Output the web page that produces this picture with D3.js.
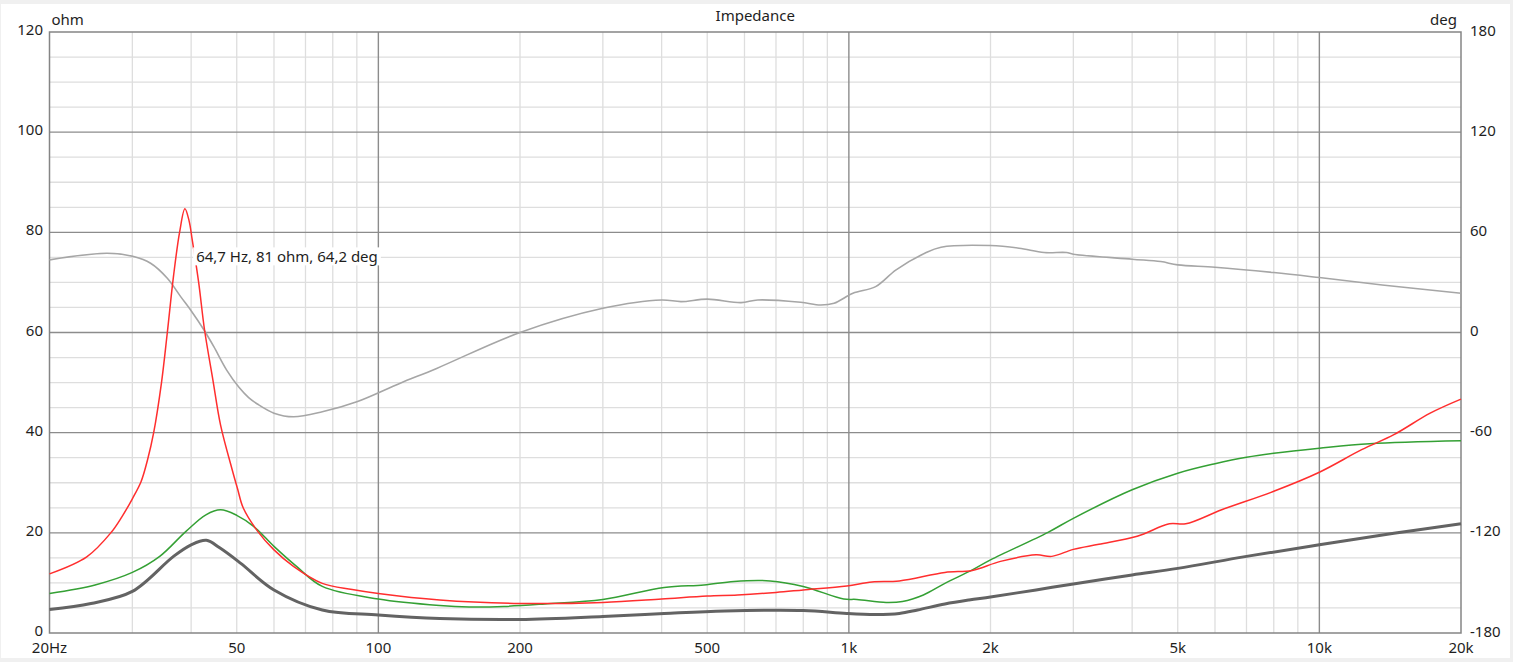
<!DOCTYPE html>
<html>
<head>
<meta charset="utf-8">
<script src="https://cdn.jsdelivr.net/npm/d3@7"></script>
<style>
  html, body { margin: 0; padding: 0; background: #f0f0f0; }
  svg { display: block; }
  text { font-family: "Noto Sans", "Open Sans", sans-serif; fill: #1e1e1e; }
</style>
</head>
<body>
<svg id="chart" width="1513" height="662"></svg>
<script>
// ---------- data ----------
const chartTitle = "Impedance";
const leftUnit = "ohm";
const rightUnit = "deg";
const annotationText = "64,7 Hz, 81 ohm, 64,2 deg";

const freqTicks = [20, 50, 100, 200, 500, 1000, 2000, 5000, 10000, 20000];
const freqTickLabels = ["20Hz", "50", "100", "200", "500", "1k", "2k", "5k", "10k", "20k"];
const ohmTicks = [0, 20, 40, 60, 80, 100, 120];
const degTicks = [-180, -120, -60, 0, 60, 120, 180];

// red: impedance magnitude (ohm)
const redFreq = [20, 24, 27, 28.5, 30, 31.3, 32.3, 33.3, 34.6, 35.6, 36.7, 37.8, 38.8, 39.6, 40.2, 41.5, 42.7, 44.5, 46.2, 48.9, 50.2, 51.6, 55.3, 60, 66, 76, 88, 100, 135, 200, 300, 400, 500, 580, 700, 800, 990, 1120, 1280, 1600, 1830, 2100, 2500, 2700, 3000, 3400, 4100, 4800, 5200, 6200, 8000, 10000, 12300, 14400, 17200, 20000];
const redOhm  = [11.8, 15.2, 20.0, 23.2, 26.8, 30.2, 34.5, 40.0, 50.0, 60.0, 71.3, 80.0, 84.7, 82.3, 78.6, 70.0, 60.6, 50.5, 41.5, 32.6, 28.8, 25.0, 20.4, 16.6, 13.3, 9.9, 8.7, 7.9, 6.6, 5.9, 6.1, 6.8, 7.4, 7.6, 8.1, 8.6, 9.4, 10.2, 10.4, 12.1, 12.5, 14.3, 15.6, 15.3, 16.7, 17.7, 19.3, 21.8, 21.8, 24.6, 28.3, 32.1, 36.6, 39.6, 43.9, 46.7];

// green: second impedance curve (ohm)
const greenFreq = [20, 25, 30, 34.3, 39, 43, 46.2, 50, 54.3, 60, 67, 76, 100, 135, 156, 185, 226, 300, 405, 492, 570, 680, 800, 975, 1040, 1200, 1300, 1440, 1600, 1830, 2000, 2650, 3000, 4000, 5000, 6000, 7000, 8000, 10000, 12800, 20000];
const greenOhm  = [7.9, 9.6, 12.1, 15.3, 20.3, 23.6, 24.6, 23.5, 21.3, 17.3, 13.3, 9.3, 6.8, 5.5, 5.2, 5.3, 5.8, 6.7, 9.1, 9.6, 10.3, 10.4, 9.3, 6.8, 6.7, 6.1, 6.3, 7.6, 9.9, 12.6, 14.6, 20.1, 22.9, 28.6, 31.9, 33.8, 35.1, 35.9, 36.9, 37.8, 38.4];

// dark grey: third impedance curve (ohm)
const darkFreq = [20, 24.5, 30, 36.7, 40, 43.1, 46, 51, 60, 76, 100, 135, 200, 300, 405, 545, 800, 990, 1140, 1280, 1400, 1600, 1800, 2000, 2500, 3000, 4000, 5000, 7000, 10000, 14400, 20000];
const darkOhm  = [4.7, 5.9, 8.3, 15.3, 17.6, 18.5, 17.0, 13.9, 8.6, 4.6, 3.6, 2.9, 2.7, 3.3, 3.9, 4.4, 4.5, 3.9, 3.7, 3.9, 4.6, 5.8, 6.6, 7.2, 8.6, 9.8, 11.6, 12.9, 15.3, 17.6, 19.9, 21.8];

// light grey: phase (deg)
const phaseFreq = [20, 26.5, 30.2, 32.8, 35.6, 38, 39.9, 42.6, 44.7, 47.6, 50.6, 53, 55.3, 60, 66, 76, 90, 111, 133, 200, 300, 400, 440, 500, 590, 640, 790, 870, 930, 1020, 1140, 1260, 1450, 1570, 2000, 2300, 2600, 2900, 3000, 4000, 4600, 5000, 6000, 8000, 10000, 13600, 20000];
const phaseDeg  = [43.5, 47.5, 45.5, 41.5, 32.5, 21.5, 13.5, 1.5, -8.5, -22.5, -33.0, -39.0, -42.8, -48.3, -50.5, -47.5, -41.5, -30.5, -21.5, 0, 14.5, 19.5, 18.5, 20, 17.9, 19.5, 18.1, 16.5, 17.5, 23.5, 27.5, 37.5, 47.5, 51.1, 52.1, 50.5, 47.9, 47.9, 46.9, 43.9, 42.5, 40.5, 39.1, 35.9, 32.9, 28.5, 23.5];

// ---------- layout ----------
const plot = { left: 49.5, right: 1461, top: 32, bottom: 633 };

const svg = d3.select("#chart");
svg.append("rect").attr("x", 1).attr("y", 4).attr("width", 1509).attr("height", 654).attr("fill", "#ffffff");

const x = d3.scaleLog().domain([20, 20000]).range([plot.left, plot.right]);
const y = d3.scaleLinear().domain([0, 120]).range([plot.bottom, plot.top]);
const yR = d3.scaleLinear().domain([-180, 180]).range([plot.bottom, plot.top]);

const grid = svg.append("g");

// minor vertical grid
const minorFreqs = [];
[10, 100, 1000, 10000].forEach(dec => {
  for (let m = 2; m <= 9; m++) {
    const f = dec * m;
    if (f > 20 && f < 20000) minorFreqs.push(f);
  }
});
grid.selectAll(".vminor").data(minorFreqs).enter().append("line")
  .attr("x1", d => x(d)).attr("x2", d => x(d))
  .attr("y1", plot.top).attr("y2", plot.bottom)
  .attr("stroke", "#dedede").attr("stroke-width", 1.3);

// minor horizontal grid
const minorOhm = d3.range(5, 120, 5).filter(v => v % 20 !== 0);
grid.selectAll(".hminor").data(minorOhm).enter().append("line")
  .attr("x1", plot.left).attr("x2", plot.right)
  .attr("y1", d => y(d)).attr("y2", d => y(d))
  .attr("stroke", "#dedede").attr("stroke-width", 1.3);

// major grid
grid.selectAll(".vmajor").data([100, 1000, 10000]).enter().append("line")
  .attr("x1", d => x(d)).attr("x2", d => x(d))
  .attr("y1", plot.top).attr("y2", plot.bottom)
  .attr("stroke", "#8c8c8c").attr("stroke-width", 1.4);
grid.selectAll(".hmajor").data(ohmTicks.filter(v => v > 0 && v < 120)).enter().append("line")
  .attr("x1", plot.left).attr("x2", plot.right)
  .attr("y1", d => y(d)).attr("y2", d => y(d))
  .attr("stroke", "#8c8c8c").attr("stroke-width", 1.4);

// border
svg.append("rect")
  .attr("x", plot.left).attr("y", plot.top)
  .attr("width", plot.right - plot.left).attr("height", plot.bottom - plot.top)
  .attr("fill", "none").attr("stroke", "#858585").attr("stroke-width", 1.5);

// ---------- curves ----------
const smooth = d3.curveCatmullRom.alpha(0.5);
const lineOhm = d3.line().x(d => x(d[0])).y(d => y(d[1])).curve(smooth);
const lineDeg = d3.line().x(d => x(d[0])).y(d => yR(d[1])).curve(smooth);
const zip = (a, b) => a.map((v, i) => [v, b[i]]);

const curves = svg.append("g");
curves.append("path").datum(zip(phaseFreq, phaseDeg)).attr("d", lineDeg)
  .attr("fill", "none").attr("stroke", "#a6a6a6").attr("stroke-width", 1.6);
curves.append("path").datum(zip(darkFreq, darkOhm)).attr("d", lineOhm)
  .attr("fill", "none").attr("stroke", "#636363").attr("stroke-width", 3);
curves.append("path").datum(zip(greenFreq, greenOhm)).attr("d", lineOhm)
  .attr("fill", "none").attr("stroke", "#34a034").attr("stroke-width", 1.5);
curves.append("path").datum(zip(redFreq, redOhm)).attr("d", lineOhm)
  .attr("fill", "none").attr("stroke", "#ff2e2e").attr("stroke-width", 1.5);

// ---------- annotation ----------
const ann = svg.append("g");
const annX = x(40.2) + 1, annY = y(75.2);
const annText = ann.append("text").attr("x", annX + 3).attr("y", annY)
  .attr("dominant-baseline", "central").attr("font-size", 15).text(annotationText);
const bb = annText.node().getBBox();
ann.insert("rect", "text").attr("x", bb.x - 3).attr("y", bb.y + 1).attr("width", bb.width + 6).attr("height", bb.height - 2)
  .attr("fill", "#ffffff");

// ---------- labels ----------
const labels = svg.append("g").attr("font-size", 15);
labels.append("text").attr("x", (plot.left + plot.right) / 2).attr("y", 21)
  .attr("text-anchor", "middle").text(chartTitle);
labels.append("text").attr("x", plot.left + 2).attr("y", 25).text(leftUnit);
labels.append("text").attr("x", plot.right - 4).attr("y", 25).attr("text-anchor", "end").text(rightUnit);

labels.selectAll(".yl").data(ohmTicks).enter().append("text")
  .attr("x", 43).attr("y", d => y(d) - 3)
  .attr("text-anchor", "end").attr("dominant-baseline", "central").text(d => d);
labels.selectAll(".yr").data(degTicks).enter().append("text")
  .attr("x", 1470).attr("y", d => yR(d) - 2.5)
  .attr("dominant-baseline", "central").text(d => d);
labels.selectAll(".xl").data(freqTicks).enter().append("text")
  .attr("x", d => x(d)).attr("y", 647)
  .attr("text-anchor", "middle").attr("dominant-baseline", "central")
  .text((d, i) => freqTickLabels[i]);
</script>
</body>
</html>
